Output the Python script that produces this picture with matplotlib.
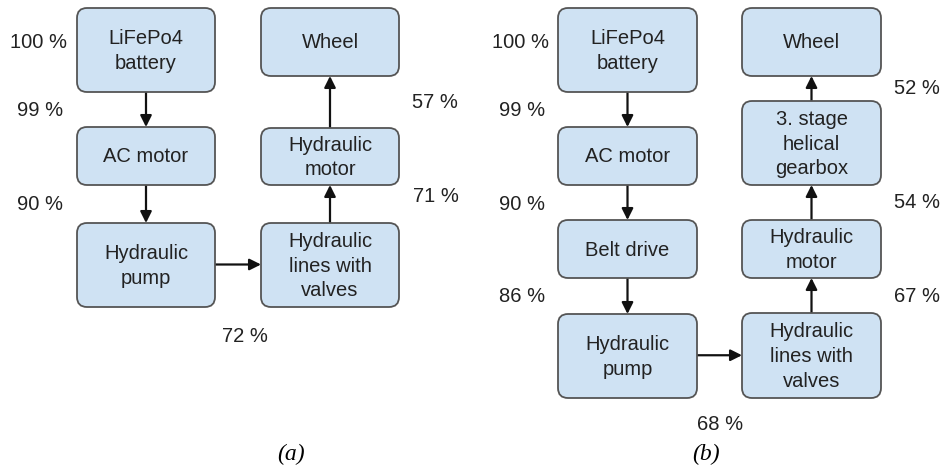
import matplotlib.pyplot as plt
from matplotlib.patches import FancyBboxPatch

# --------------------------------------------------
# data: component names and efficiencies
# --------------------------------------------------

labels_a = ["LiFePo4\nbattery", "AC motor", "Hydraulic\npump",
            "Hydraulic\nlines with\nvalves", "Hydraulic\nmotor", "Wheel"]
eff_a = ["100 %", "99 %", "90 %", "72 %", "71 %", "57 %"]

labels_b = ["LiFePo4\nbattery", "AC motor", "Belt drive", "Hydraulic\npump",
            "Hydraulic\nlines with\nvalves", "Hydraulic\nmotor",
            "3. stage\nhelical\ngearbox", "Wheel"]
eff_b = ["100 %", "99 %", "90 %", "86 %", "68 %", "67 %", "54 %", "52 %"]

captions = ["(a)", "(b)"]

# --------------------------------------------------
# layout (pixel coords: x0, y0, x1, y1)
# --------------------------------------------------

boxes_a = [(77, 8, 215, 92), (77, 127, 215, 185), (77, 223, 215, 307),
           (261, 223, 399, 307), (261, 128, 399, 185), (261, 8, 399, 76)]
eff_pos_a = [(38, 42), (40, 110), (40, 204), (245, 337), (436, 196), (435, 102)]

boxes_b = [(558, 8, 697, 92), (558, 127, 697, 185), (558, 220, 697, 278),
           (558, 314, 697, 398), (742, 313, 881, 398), (742, 220, 881, 278),
           (742, 101, 881, 185), (742, 8, 881, 76)]
eff_pos_b = [(520, 42), (522, 110), (522, 204), (522, 297), (720, 424),
             (917, 297), (917, 203), (917, 88)]

cap_pos = [(291, 454), (706, 454)]

FILL = "#cfe2f3"
EDGE = "#555555"
FONT = "Liberation Sans"

fig = plt.figure(figsize=(9.44, 4.66), dpi=100)
ax = fig.add_axes([0, 0, 1, 1])
ax.set_xlim(0, 944)
ax.set_ylim(466, 0)
ax.axis("off")


def draw_box(b, text):
    x0, y0, x1, y1 = b
    r = 10
    p = FancyBboxPatch((x0 + r, y0 + r), x1 - x0 - 2 * r, y1 - y0 - 2 * r,
                       boxstyle=f"round,pad={r},rounding_size={r}",
                       fc=FILL, ec=EDGE, lw=1.3, zorder=2)
    ax.add_patch(p)
    ax.text((x0 + x1) / 2, (y0 + y1) / 2 + 1, text, ha="center", va="center",
            fontsize=14.5, family=FONT, color="#222222", linespacing=1.38,
            zorder=3)


def draw_arrow(b1, b2):
    # connect box b1 to box b2 (vertical or horizontal)
    cx1, cy1 = (b1[0] + b1[2]) / 2, (b1[1] + b1[3]) / 2
    cx2, cy2 = (b2[0] + b2[2]) / 2, (b2[1] + b2[3]) / 2
    if abs(cx1 - cx2) < 5:
        if cy2 > cy1:
            start, end = (cx1, b1[3]), (cx1, b2[1])
        else:
            start, end = (cx1, b1[1]), (cx1, b2[3])
    else:
        y = (cy1 + cy2) / 2 - 0.5
        start, end = (b1[2], y), (b2[0], y)
    ax.annotate("", xy=end, xytext=start,
                arrowprops=dict(arrowstyle="-|>", color="#111111", lw=1.6,
                                mutation_scale=17, shrinkA=0, shrinkB=0),
                zorder=1)


for boxes, labels, effs, pos in [(boxes_a, labels_a, eff_a, eff_pos_a),
                                 (boxes_b, labels_b, eff_b, eff_pos_b)]:
    for b, t in zip(boxes, labels):
        draw_box(b, t)
    for i in range(len(boxes) - 1):
        draw_arrow(boxes[i], boxes[i + 1])
    for e, (x, y) in zip(effs, pos):
        ax.text(x, y, e, ha="center", va="center", fontsize=14.5,
                family=FONT, color="#222222")

for c, (x, y) in zip(captions, cap_pos):
    ax.text(x, y, c, ha="center", va="center", fontsize=17,
            family="Liberation Serif", style="italic")

fig.savefig("out.png", dpi=100)
